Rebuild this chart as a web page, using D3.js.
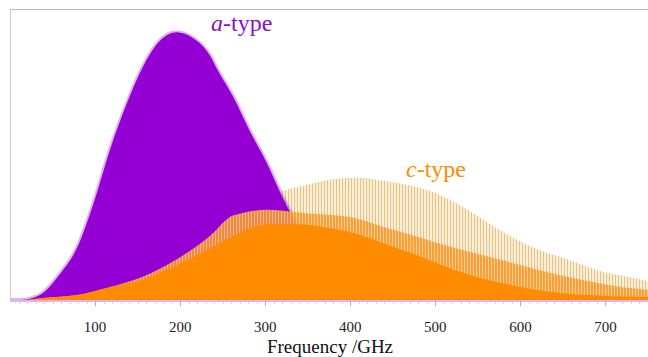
<!DOCTYPE html>
<html>
<head>
<meta charset="utf-8">
<script src="https://cdn.jsdelivr.net/npm/d3@7"></script>
<style>
  body { margin: 0; background: #fff; }
  svg { display: block; }
</style>
</head>
<body>
<div id="chart"></div>
<script>
// envelopes: [frequency GHz, relative intensity 0-100]
const aTypeEnvelope = [
  [0, 0], [12, 0], [35, 1.7], [59, 9], [79, 18], [98, 33], [118, 52], [138, 68],
  [156, 80], [176, 89], [196, 92], [215, 90], [235, 84], [244, 79], [262, 70],
  [282, 58], [302, 47], [321, 35], [341, 24], [361, 14], [376, 6], [400, 1.5], [424, 0], [750, 0]
];
const cTypeEnvelope = [
  [0, 0], [15, 0], [39, 0.7], [79, 1.7], [118, 4.5], [156, 8], [196, 14], [235, 22],
  [262, 31], [302, 36], [341, 39], [380, 41.5], [408, 42], [439, 41], [459, 40],
  [498, 37], [538, 31], [576, 24], [615, 18], [655, 14], [694, 10], [733, 7.6], [750, 6.5]
];
// where the c-type lines get busy (mixed orange sticks)
const cTypeMid = [
  [0, 0], [15, 0], [39, 0.7], [79, 1.7], [118, 4.5], [156, 8], [196, 14], [235, 22],
  [262, 29], [302, 31], [341, 30], [400, 28.5], [440, 25], [482, 21.5], [521, 18],
  [561, 15], [600, 12], [639, 9], [679, 6.5], [718, 4.5], [750, 3.5]
];
// the dense (solid) part of the c-type lines
const cTypeDense = [
  [0, 0], [15, 0], [39, 0.7], [79, 1.7], [118, 4.5], [156, 7], [196, 12], [224, 16],
  [262, 22], [302, 26], [341, 26], [370, 25], [404, 23], [444, 19], [482, 15],
  [521, 10.5], [561, 7], [600, 4.5], [639, 2.7], [679, 1.7], [750, 1]
];
const majorTicks = [100, 200, 300, 400, 500, 600, 700];
const minorTicks = d3.range(10, 750, 10);

const purple = "#9400d3";
const orange = "#ff8c00";
const serif = "Liberation Serif";

const dimensions = {
  width: 648,
  height: 357,
  margin: { top: 9, right: 0, bottom: 57, left: 10 },
};
dimensions.boundedWidth = dimensions.width - dimensions.margin.left - dimensions.margin.right;
dimensions.boundedHeight = dimensions.height - dimensions.margin.top - dimensions.margin.bottom;

const svg = d3.select("#chart").append("svg")
    .attr("width", dimensions.width)
    .attr("height", dimensions.height);

const xScale = d3.scaleLinear()
  .domain([0, 750])
  .range([dimensions.margin.left, dimensions.width - dimensions.margin.right]);
const yScale = d3.scaleLinear()
  .domain([0, 100])
  .range([dimensions.margin.top + dimensions.boundedHeight, dimensions.margin.top]);

// stick look for the sparse and busy c-type lines
const defs = svg.append("defs");
const pat = defs.append("pattern")
    .attr("id", "csticks")
    .attr("patternUnits", "userSpaceOnUse")
    .attr("width", 3).attr("height", 10);
pat.append("rect").attr("width", 3).attr("height", 10).attr("fill", "#f8efdc");
pat.append("rect").attr("width", 1).attr("height", 10).attr("fill", "#ecc17a");

const patMid = defs.append("pattern")
    .attr("id", "cmid")
    .attr("patternUnits", "userSpaceOnUse")
    .attr("width", 3).attr("height", 10);
patMid.append("rect").attr("width", 3).attr("height", 10).attr("fill", "#f7c98a");
patMid.append("rect").attr("width", 2).attr("height", 10).attr("fill", "#fb9a2a");

const area = d3.area()
  .x(d => xScale(d[0]))
  .y0(yScale(0))
  .y1(d => yScale(d[1]))
  .curve(d3.curveMonotoneX);

const plot = svg.append("g");

plot.append("path")
    .datum(cTypeEnvelope)
    .attr("d", area)
    .attr("fill", "url(#csticks)");

plot.append("path")
    .datum(aTypeEnvelope)
    .attr("d", area)
    .attr("fill", purple)
    .attr("stroke", purple)
    .attr("stroke-opacity", 0.3)
    .attr("stroke-width", 4);

plot.append("path")
    .datum(cTypeMid)
    .attr("d", area)
    .attr("fill", "url(#cmid)")
    .attr("opacity", 0.9);

plot.append("path")
    .datum(cTypeDense)
    .attr("d", area)
    .attr("fill", orange);

// frame
svg.append("line")
    .attr("x1", xScale(0) + 0.5).attr("x2", xScale(0) + 0.5)
    .attr("y1", yScale(100)).attr("y2", yScale(0))
    .attr("stroke", "#cfcfcf");
svg.append("line")
    .attr("x1", xScale(0)).attr("x2", dimensions.width)
    .attr("y1", yScale(100) + 0.5).attr("y2", yScale(100) + 0.5)
    .attr("stroke", "#b5b5b5");

// x axis
const xAxis = svg.append("g")
    .attr("transform", `translate(0, ${yScale(0)})`);
xAxis.selectAll("line.minor")
  .data(minorTicks.filter(d => d % 100 !== 0))
  .enter().append("line")
    .attr("class", "minor")
    .attr("x1", d => Math.round(xScale(d)) + 0.5)
    .attr("x2", d => Math.round(xScale(d)) + 0.5)
    .attr("y1", 1).attr("y2", 4)
    .attr("stroke", "#d0d0d0");
xAxis.selectAll("line.major")
  .data(majorTicks)
  .enter().append("line")
    .attr("class", "major")
    .attr("x1", d => Math.round(xScale(d)) + 0.5)
    .attr("x2", d => Math.round(xScale(d)) + 0.5)
    .attr("y1", 1).attr("y2", 6)
    .attr("stroke", "#b0b0b0");
xAxis.selectAll("text")
  .data(majorTicks)
  .enter().append("text")
    .attr("x", d => xScale(d))
    .attr("y", 32)
    .attr("text-anchor", "middle")
    .attr("font-size", 15)
    .attr("font-family", serif)
    .attr("fill", "#222")
    .text(d => d);

svg.append("text")
    .attr("x", 330)
    .attr("y", 353)
    .attr("text-anchor", "middle")
    .attr("font-size", 19)
    .attr("font-family", serif)
    .attr("fill", "#111")
    .text("Frequency /GHz");

// series labels
const aLabel = svg.append("text")
    .attr("x", 211).attr("y", 31)
    .attr("font-size", 24)
    .attr("font-family", serif)
    .attr("fill", "#8a0fc8");
aLabel.append("tspan").attr("font-style", "italic").text("a");
aLabel.append("tspan").text("-type");

const cLabel = svg.append("text")
    .attr("x", 406).attr("y", 177)
    .attr("font-size", 24)
    .attr("font-family", serif)
    .attr("fill", orange);
cLabel.append("tspan").attr("font-style", "italic").text("c");
cLabel.append("tspan").text("-type");
</script>
</body>
</html>
